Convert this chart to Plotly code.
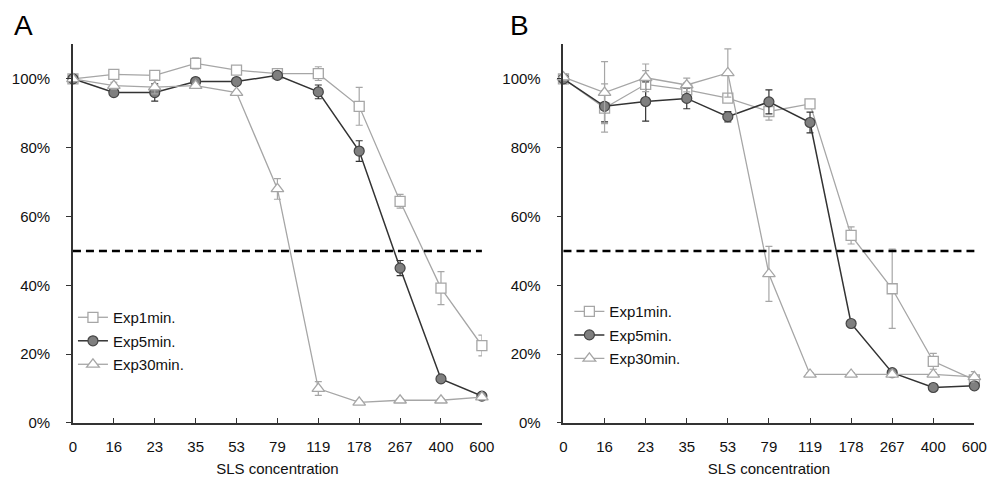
import plotly.graph_objects as go
from plotly.subplots import make_subplots

categories = ["0", "16", "23", "35", "53", "79", "119", "178", "267", "400", "600"]
series_names = ["Exp1min.", "Exp5min.", "Exp30min."]

# Panel A values (%)
a_exp1 = [100, 101.3, 101, 104.5, 102.5, 101.5, 101.5, 92, 64.4, 39.2, 22.5]
a_exp1_err = [0.5, 1, 1, 1.6, 0.5, 0.5, 2, 5.5, 2, 4.8, 3]
a_exp5 = [100, 96, 96, 99.2, 99.2, 101, 96.2, 79, 45, 12.8, 7.8]
a_exp5_err = [0.5, 0.5, 2.5, 1, 0.5, 0.5, 2, 3, 2.2, 0.5, 0.5]
a_exp30 = [100, 98, 97.6, 98, 96, 68, 10, 6, 6.6, 6.6, 7.5]
a_exp30_err = [0.5, 1, 2, 0.5, 0.5, 3, 2, 0.5, 0.5, 0.5, 0.5]

# Panel B values (%)
b_exp1 = [100, 91.5, 98.4, 96.8, 94.4, 90.5, 92.7, 54.5, 39, 17.9, 12.5]
b_exp1_err = [1.5, 7, 4, 2, 1, 2.5, 1, 2.5, 11.5, 2.3, 1]
b_exp5 = [100, 92, 93.4, 94.3, 89, 93.3, 87.3, 28.9, 14.6, 10.3, 10.8]
b_exp5_err = [1, 4.5, 5.7, 3, 1.5, 3.5, 3, 0.5, 0.5, 0.5, 0.5]
b_exp30 = [100.5, 96, 100.3, 98.2, 101.7, 43.3, 14.1, 14.1, 14.1, 14.1, 13.4]
b_exp30_err = [1, 9, 4, 2, 7, 8, 0.5, 0.5, 0.5, 0.5, 1.5]

threshold = 50
yticks = [0, 20, 40, 60, 80, 100]
ytick_labels = [f"{v}%" for v in yticks]

LIGHT = "#a6a6a6"
DARK = "#333333"
FONT = "Liberation Sans, Arial, sans-serif"

styles = [
    dict(line=dict(color=LIGHT, width=1.3),
         marker=dict(symbol="square", size=10, color="white", line=dict(color=LIGHT, width=1.3)),
         err=LIGHT),
    dict(line=dict(color=DARK, width=1.5),
         marker=dict(symbol="circle", size=10, color="#7f7f7f", line=dict(color="#444444", width=1.2)),
         err=DARK),
    dict(line=dict(color=LIGHT, width=1.3),
         marker=dict(symbol="triangle-up", size=11, color="white", line=dict(color=LIGHT, width=1.3)),
         err=LIGHT),
]

fig = make_subplots(rows=1, cols=2)

panels = [
    (1, "legend", [(a_exp1, a_exp1_err), (a_exp5, a_exp5_err), (a_exp30, a_exp30_err)]),
    (2, "legend2", [(b_exp1, b_exp1_err), (b_exp5, b_exp5_err), (b_exp30, b_exp30_err)]),
]

for col, leg, data in panels:
    for k, (vals, errs) in enumerate(data):
        st = styles[k]
        fig.add_trace(go.Scatter(
            x=categories, y=vals, name=series_names[k], mode="lines+markers",
            line=st["line"], marker=st["marker"], cliponaxis=False,
            legend=leg, legendgroup=f"{leg}_{k}",
            error_y=dict(type="data", array=errs, visible=True, color=st["err"],
                         thickness=1.2, width=3.5),
        ), row=1, col=col)

dom_top = 1 - 37 / 480
dom_bot = 1 - 422 / 480
fig.update_layout(
    width=1001, height=480,
    margin=dict(l=0, r=0, t=0, b=0),
    paper_bgcolor="white", plot_bgcolor="white",
    font=dict(family=FONT, size=15, color="#111111"),
    xaxis=dict(domain=[62 / 1001, 478 / 1001]),
    xaxis2=dict(domain=[561 / 1001, 979 / 1001]),
    yaxis=dict(domain=[dom_bot, dom_top]),
    yaxis2=dict(domain=[dom_bot, dom_top]),
    legend=dict(x=62 / 1001, y=1 - 298 / 480, xanchor="left", yanchor="top",
                bgcolor="rgba(0,0,0,0)", font=dict(size=15, family=FONT), tracegroupgap=1),
    legend2=dict(x=567 / 1001, y=1 - 292 / 480, xanchor="left", yanchor="top",
                 bgcolor="rgba(0,0,0,0)", font=dict(size=15, family=FONT), tracegroupgap=1),
    showlegend=True,
)

for c in (1, 2):
    fig.update_xaxes(type="category", categoryorder="array", categoryarray=categories,
                     range=[0, len(categories) - 1], showline=True, linecolor=DARK, linewidth=1.5,
                     ticks="inside", ticklen=5, tickcolor=DARK, tickwidth=1.2,
                     showgrid=False, zeroline=False, ticklabelstandoff=9,
                     tickfont=dict(size=15, family=FONT),
                     title=dict(text="SLS concentration", standoff=10, font=dict(size=15, family=FONT)),
                     row=1, col=c)
    fig.update_yaxes(range=[0, 110], tickmode="array", tickvals=yticks, ticktext=ytick_labels,
                     showline=True, linecolor=DARK, linewidth=1.5, ticks="outside", ticklen=5,
                     tickcolor=DARK, tickwidth=1.2, showgrid=False, zeroline=False,
                     tickfont=dict(size=15, family=FONT),
                     ticklabelstandoff=13, row=1, col=c)
    fig.add_hline(y=threshold, line=dict(color="black", width=2.5, dash="8px,5px"),
                  row=1, col=c)

fig.add_annotation(text="A", x=0, y=1 - 18 / 480, xref="paper", yref="paper",
                   xanchor="left", yanchor="middle", showarrow=False,
                   font=dict(size=28, family=FONT, color="black"))
fig.add_annotation(text="B", x=505 / 1001, y=1 - 18 / 480, xref="paper", yref="paper",
                   xanchor="left", yanchor="middle", showarrow=False,
                   font=dict(size=28, family=FONT, color="black"))

fig.write_html("out.html")
